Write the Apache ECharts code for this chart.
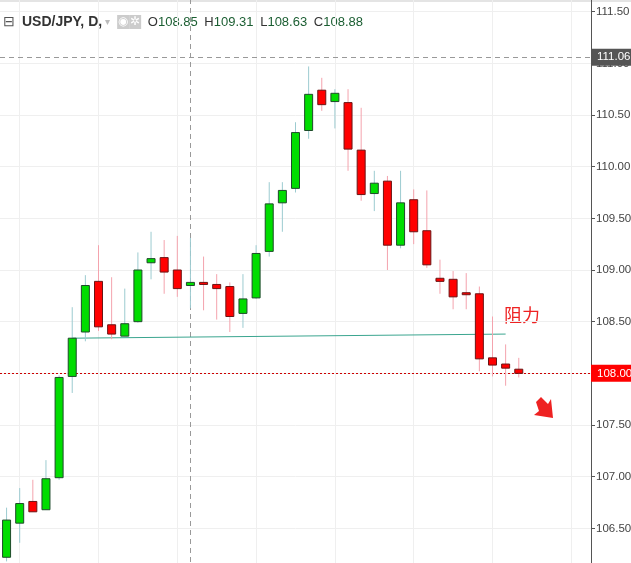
<!DOCTYPE html>
<html>
<head>
<meta charset="utf-8">
<script src="https://cdn.jsdelivr.net/npm/echarts@6/dist/echarts.min.js"></script>
<style>html,body{margin:0;padding:0;background:#fff;overflow:hidden;width:631px;height:563px}
#main{position:absolute;left:0;top:-40px;width:631px;height:620px}</style>
</head>
<body>
<div id="main"></div>
<script>
// 日K数据 open, close, low, high
var opens  = [106.22,106.55,106.76,106.68,106.99,107.97,108.40,108.89,108.47,108.36,108.50,109.07,109.12,109.00,108.85,108.88,108.86,108.84,108.58,108.73,
              109.18,109.65,109.79,110.35,110.74,110.63,110.62,110.16,109.74,109.86,109.24,109.68,109.38,108.92,108.91,108.78,108.77,108.15,108.09,108.04];
var closes = [106.58,106.74,106.66,106.98,107.96,108.34,108.85,108.45,108.38,108.48,109.00,109.11,108.98,108.82,108.88,108.86,108.82,108.55,108.72,109.16,
              109.64,109.77,110.33,110.70,110.60,110.71,110.17,109.73,109.84,109.24,109.65,109.37,109.05,108.89,108.74,108.77,108.14,108.08,108.05,108.00];
var lows   = [106.18,106.36,106.66,106.68,106.97,107.81,108.31,108.41,108.33,108.36,108.49,108.91,108.77,108.74,108.63,108.61,108.52,108.40,108.44,108.72,
              109.13,109.37,109.75,110.27,110.54,110.37,109.96,109.67,109.57,109.00,109.21,109.25,109.02,108.77,108.62,108.62,108.02,107.97,107.88,107.96];
var highs  = [106.70,106.89,106.97,107.16,107.98,108.64,108.95,109.24,108.93,108.82,109.17,109.37,109.29,109.33,109.31,109.13,108.96,108.88,108.96,109.24,
              109.85,109.85,110.43,110.97,110.86,110.75,110.75,110.57,109.96,109.91,109.96,109.78,109.77,109.10,108.99,108.97,108.84,108.55,108.28,108.15];
var slots = 45; // 右侧留空
var categories = [];
for (var i = 0; i < slots; i++) categories.push(String(i));
var vGrid = [1,7,13,19,25,31,37,43];
var resistance = [[5,108.34],[38,108.38]];

var data = [];
for (var i = 0; i < opens.length; i++) data.push([i, opens[i], closes[i], lows[i], highs[i]]);

function renderCandle(params, api) {
    var x = api.value(0), o = api.value(1), c = api.value(2), l = api.value(3), h = api.value(4);
    var up = c >= o;
    var pTop = api.coord([x, Math.max(o, c)]);
    var pBot = api.coord([x, Math.min(o, c)]);
    var pH = api.coord([x, h]), pL = api.coord([x, l]);
    var w = 8;
    var hgt = Math.max(pBot[1] - pTop[1], 2);
    return {
        type: 'group',
        children: [
            {type: 'line', shape: {x1: pH[0], y1: pH[1], x2: pL[0], y2: pL[1]},
             style: {stroke: up ? '#9ccbd0' : '#f4a3ad', lineWidth: 1}},
            {type: 'rect', shape: {x: pTop[0] - w / 2, y: pTop[1], width: w, height: hgt},
             style: {fill: up ? '#00dd00' : '#ff0000', stroke: up ? '#1e4a2a' : '#6b1414', lineWidth: 1}}
        ]
    };
}

var myChart = echarts.init(document.getElementById('main'));
var markLines = [];
for (var i = 0; i < vGrid.length; i++) {
    markLines.push({xAxis: String(vGrid[i]), lineStyle: {color: '#efefef', type: 'solid', width: 1}, label: {show: false}});
}
markLines.push({xAxis: '14', lineStyle: {color: '#999', type: [5, 4], width: 1}, label: {show: false}});
markLines.push({yAxis: 111.06, lineStyle: {color: '#999', type: [5, 4], width: 1},
    label: {show: true, position: 'end', formatter: '111.06', color: '#fff', backgroundColor: '#555', padding: [3, 2, 2, 6], fontSize: 11.5, fontFamily: 'Arial', distance: 0}});
markLines.push({yAxis: 108.00, lineStyle: {color: '#cc0000', type: [2, 2], width: 1},
    label: {show: true, position: 'end', formatter: '108.00', color: '#fff', backgroundColor: '#ff0000', padding: [3, 2, 2, 6], fontSize: 11.5, fontFamily: 'Arial', distance: 0}});
markLines.push([{coord: [String(resistance[0][0]), resistance[0][1]], lineStyle: {color: '#3aa58f', type: 'solid', width: 1}, label: {show: false}},
                {coord: [String(resistance[1][0]), resistance[1][1]]}]);

var option = {
    animation: false,
    grid: {left: 0, right: 40, top: 0, bottom: 0, outerBoundsMode: 'none', containLabel: false},
    xAxis: {
        type: 'category', data: categories, boundaryGap: true,
        axisLine: {show: false}, axisTick: {show: false}, axisLabel: {show: false}, splitLine: {show: false}
    },
    yAxis: {
        type: 'value', position: 'right', min: 106, max: 112, interval: 0.5,
        axisLine: {show: true, lineStyle: {color: '#555'}},
        axisTick: {show: true, length: 4, lineStyle: {color: '#555'}},
        axisLabel: {color: '#444', fontSize: 11.5, fontFamily: 'Arial', margin: 5, formatter: function (v) { return v.toFixed(2); }},
        splitLine: {show: true, lineStyle: {color: '#efefef'}}
    },
    series: [
        {type: 'line', data: [], markLine: {symbol: 'none', silent: true, data: markLines}},
        {type: 'custom', renderItem: renderCandle, data: data, encode: {x: 0, y: [1, 2, 3, 4]}, z: 5}
    ],
    graphic: [
        {type: 'rect', shape: {x: 0, y: 40, width: 631, height: 2}, style: {fill: '#e4e4e4'}},
        {type: 'text', left: 3, top: 55, style: {text: '⊟', fontSize: 14, fill: '#555'}},
        {type: 'text', left: 22, top: 55, style: {
            text: '{b|USD/JPY, D,} {g|▾}  {i|◉}{i|✲}  {k|O}{v|108.85}  {k|H}{v|109.31}  {k|L}{v|108.63}  {k|C}{v|108.88}',
            rich: {
                b: {fontSize: 14, fontWeight: 'bold', fill: '#333', fontFamily: 'Arial'},
                g: {fontSize: 10, fill: '#bbb'},
                i: {fontSize: 12, fill: '#fff', backgroundColor: '#ccc', padding: [1, 1]},
                k: {fontSize: 13, fill: '#333', fontFamily: 'Arial'},
                v: {fontSize: 13, fill: '#1b5e32', fontFamily: 'Arial'}
            }
        }},
        {type: 'text', left: 504, top: 346, style: {text: '阻力', fontSize: 18, fill: '#ee2222', fontFamily: 'Noto Sans CJK SC'}},
        {type: 'polygon', shape: {points: [[536, 442], [541, 437], [548, 444], [551, 439], [553, 458], [534, 455], [539, 451]]}, style: {fill: '#ee2222'}}
    ]
};
myChart.setOption(option);
</script>
</body>
</html>
